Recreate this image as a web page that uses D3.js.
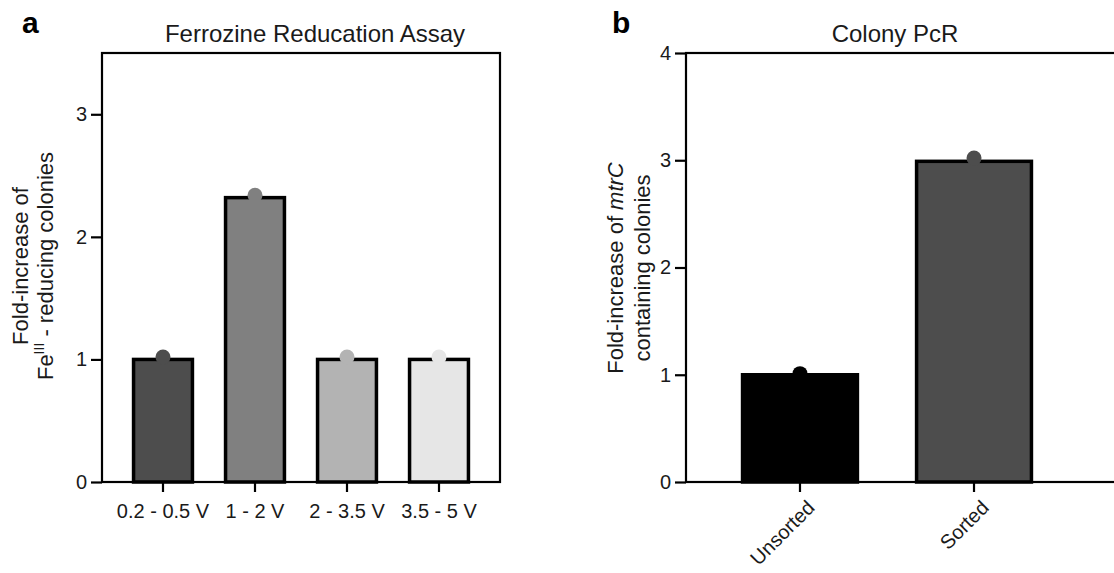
<!DOCTYPE html>
<html>
<head>
<meta charset="utf-8">
<script src="https://cdn.jsdelivr.net/npm/d3@7"></script>
<style>
  body { margin: 0; background: #fff; }
  svg { display: block; font-family: "Liberation Sans", Arial, Helvetica, sans-serif; }
</style>
</head>
<body>
<svg id="chart" width="1114" height="573"></svg>
<script>
// panel a - ferrozine assay
const ferrozineCategories = ["0.2 - 0.5 V", "1 - 2 V", "2 - 3.5 V", "3.5 - 5 V"];
const ferrozineBars = [1, 2.32, 1, 1];
const ferrozinePoints = [1.02, 2.34, 1.02, 1.02];
const ferrozineTicks = [0, 1, 2, 3];
const ferrozineColors = ["#4d4d4d", "#808080", "#b3b3b3", "#e6e6e6"];

// panel b - colony pcr
const pcrCategories = ["Unsorted", "Sorted"];
const pcrBars = [1, 2.99];
const pcrPoints = [1.01, 3.02];
const pcrTicks = [0, 1, 2, 3, 4];
const pcrColors = ["#000000", "#4d4d4d"];

const svg = d3.select("#chart");
const plotTop = 53, plotBottom = 482;

function drawPanel(opt) {
  const g = svg.append("g");
  const x = d3.scaleBand()
    .domain(opt.categories)
    .range([opt.left, opt.right])
    .paddingInner(opt.padInner)
    .paddingOuter(opt.padOuter);
  const y = d3.scaleLinear().domain([0, opt.max]).range([plotBottom, plotTop]);

  // frame (panel b runs off the right edge)
  g.append("rect")
    .attr("x", opt.left).attr("y", plotTop)
    .attr("width", opt.frameRight - opt.left).attr("height", plotBottom - plotTop)
    .attr("fill", "none").attr("stroke", "#000").attr("stroke-width", 2.2);

  // y axis
  const ya = g.append("g")
    .attr("transform", "translate(" + opt.left + ",0)")
    .call(d3.axisLeft(y).tickValues(opt.ticks).tickSize(11).tickPadding(4).tickFormat(d3.format("d")));
  ya.select(".domain").remove();
  ya.selectAll(".tick line").attr("stroke", "#000").attr("stroke-width", 2.2);
  ya.selectAll("text").attr("font-size", 20).attr("fill", "#1a1a1a").style("font-family", "inherit");

  // bars
  g.selectAll(".bar")
    .data(opt.bars)
    .enter().append("rect")
    .attr("x", (d, i) => x(opt.categories[i]))
    .attr("y", d => y(d))
    .attr("width", x.bandwidth())
    .attr("height", d => plotBottom - y(d))
    .attr("fill", (d, i) => opt.colors[i])
    .attr("stroke", "#000")
    .attr("stroke-width", 3.5);

  // points
  g.selectAll(".pt")
    .data(opt.points)
    .enter().append("circle")
    .attr("cx", (d, i) => x(opt.categories[i]) + x.bandwidth() / 2)
    .attr("cy", d => y(d))
    .attr("r", 7.5)
    .attr("fill", (d, i) => opt.colors[i]);

  // x axis
  const xa = g.append("g")
    .attr("transform", "translate(0," + plotBottom + ")")
    .call(d3.axisBottom(x).tickSize(10).tickPadding(12));
  xa.select(".domain").remove();
  xa.selectAll(".tick line").attr("stroke", "#000").attr("stroke-width", 2.2);
  xa.selectAll("text").attr("font-size", 20).attr("fill", "#1a1a1a").style("font-family", "inherit");
  if (opt.rotate) {
    xa.selectAll("text")
      .attr("text-anchor", "end")
      .attr("dy", null)
      .attr("y", null)
      .attr("transform", "translate(16,27) rotate(-45)");
  }

  // title
  svg.append("text")
    .attr("x", opt.titleX).attr("y", 42)
    .attr("text-anchor", "middle")
    .attr("font-size", 24).attr("fill", "#1a1a1a")
    .text(opt.title);

  // panel letter
  svg.append("text")
    .attr("x", opt.letterX).attr("y", 33)
    .attr("font-size", 30).attr("font-weight", "bold")
    .text(opt.letter);

  // y title
  const yt = svg.append("g")
    .attr("transform", "translate(0," + opt.yTitleY + ") rotate(-90)")
    .attr("font-size", 22).attr("fill", "#1a1a1a");
  opt.yTitle(yt);
}

drawPanel({
  categories: ferrozineCategories, bars: ferrozineBars, points: ferrozinePoints,
  ticks: ferrozineTicks, colors: ferrozineColors, max: 3.5,
  left: 102, right: 500, frameRight: 500, padInner: 0.36, padOuter: 0.343,
  title: "Ferrozine Reducation Assay", titleX: 315,
  letter: "a", letterX: 22, yTitleY: 266,
  yTitle: function (yt) {
    yt.append("text").attr("y", 28).attr("text-anchor", "middle").text("Fold-increase of");
    const t = yt.append("text").attr("y", 53).attr("text-anchor", "middle");
    t.append("tspan").text("Fe");
    t.append("tspan").attr("font-size", 14).attr("dy", -9).text("III");
    t.append("tspan").attr("dy", 9).text(" - reducing colonies");
  }
});

drawPanel({
  categories: pcrCategories, bars: pcrBars, points: pcrPoints,
  ticks: pcrTicks, colors: pcrColors, max: 4,
  left: 686, right: 1088, frameRight: 1130, padInner: 0.34, padOuter: 0.325, rotate: true,
  title: "Colony PcR", titleX: 895,
  letter: "b", letterX: 612, yTitleY: 268,
  yTitle: function (yt) {
    const t = yt.append("text").attr("y", 623).attr("text-anchor", "middle");
    t.append("tspan").text("Fold-increase of ");
    t.append("tspan").attr("font-style", "italic").text("mtrC");
    yt.append("text").attr("y", 650).attr("text-anchor", "middle").text("containing colonies");
  }
});
</script>
</body>
</html>
